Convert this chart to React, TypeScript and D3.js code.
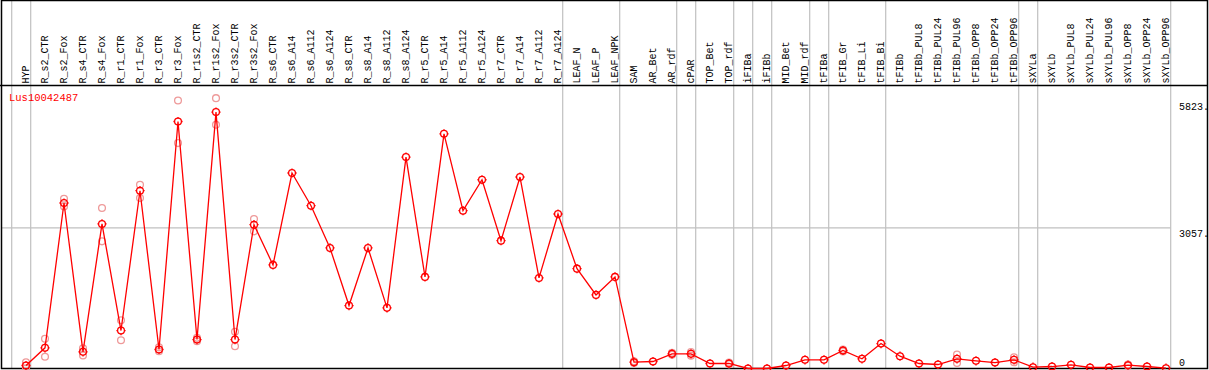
import React from "react";
import * as d3 from "d3";

const W = 1209;
const H = 370;

const categories = [
  "HYP", "R_s2_CTR", "R_s2_Fox", "R_s4_CTR", "R_s4_Fox", "R_r1_CTR", "R_r1_Fox",
  "R_r3_CTR", "R_r3_Fox", "R_r1s2_CTR", "R_r1s2_Fox", "R_r3s2_CTR", "R_r3s2_Fox",
  "R_s6_CTR", "R_s6_A14", "R_s6_A112", "R_s6_A124", "R_s8_CTR", "R_s8_A14",
  "R_s8_A112", "R_s8_A124", "R_r5_CTR", "R_r5_A14", "R_r5_A112", "R_r5_A124",
  "R_r7_CTR", "R_r7_A14", "R_r7_A112", "R_r7_A124", "LEAF_N", "LEAF_P", "LEAF_NPK",
  "SAM", "AR_Bet", "AR_rdf", "cPAR", "TOP_Bet", "TOP_rdf", "iFIBa", "iFIBb",
  "MID_Bet", "MID_rdf", "tFIBa", "tFIB_Gr", "tFIB_Li", "tFIB_Bi", "tFIBb",
  "tFIBb_PUL8", "tFIBb_PUL24", "tFIBb_PUL96", "tFIBb_OPP8", "tFIBb_OPP24", "tFIBb_OPP96",
  "sXYLa", "sXYLb", "sXYLb_PUL8", "sXYLb_PUL24", "sXYLb_PUL96", "sXYLb_OPP8",
  "sXYLb_OPP24", "sXYLb_OPP96",
];

// mean expression per sample
const means = [
  65, 450, 3600, 363, 3144, 826, 3867, 413, 5373, 630, 5577, 630, 3128,
  2253, 4252, 3541, 2622, 1369, 2622, 1319, 4599, 1992, 5105, 3433, 4106,
  2781, 4165, 1970, 3361, 2172, 1601, 1992,
  137, 152, 319, 319, 109, 109, 0, 0, 65, 189, 189, 391, 211, 543, 268,
  109, 87, 211, 167, 130, 189,
  28, 43, 80, 22, 22, 72, 43, 7,
];

// replicate values (null = coincides with mean / not visible)
const rep1: (number | null)[] = [
  137, 645, 3693, 282, 3491, 1050, 3997, 460, 5829, 667, 5881, 797, 3252,
  null, null, null, null, null, null, null, null, null, null, null, null,
  null, null, null, null, null, null, null,
  120, null, 300, 280, null, 90, null, null, null, null, null, 370, null, null, null,
  null, null, 304, null, null, 245,
  null, null, null, null, null, 60, null, null,
];
const rep2: (number | null)[] = [
  0, 254, 3526, 440, 2766, 615, 3708, 376, 4903, 593, 5301, 484, 2983,
  null, null, null, null, null, null, null, null, null, null, null, null,
  null, null, null, null, null, null, null,
  155, null, 340, 360, null, 130, null, null, null, null, null, 410, null, null, null,
  null, null, 120, null, null, 135,
  null, null, null, null, null, 85, null, null,
];

// samples after which a group separator is drawn ("" = before first)
const groupEnds = [
  "", "HYP", "R_r7_A124", "LEAF_NPK", "AR_rdf", "cPAR", "TOP_rdf", "iFIBa", "iFIBb",
  "MID_rdf", "tFIBa", "tFIB_Bi", "tFIBb_OPP96", "sXYLa", "sXYLb_OPP96",
];

const yTicks = [5823, 3057, 0];
const yTickLabels = ["5823.", "3057.", "0"];
const geneName = "Lus10042487";

const FONT = "'Liberation Mono', 'DejaVu Sans Mono', monospace";

export default function App() {
  const x = d3.scaleLinear().domain([0, categories.length - 1]).range([26, 1166]);
  const y = d3.scaleLinear().domain([0, 5823]).range([368.5, 100.8]);

  const line = d3
    .line<number>()
    .x((_, i) => x(i))
    .y((d) => y(d));

  const sepX = groupEnds.map((name) =>
    name === "" ? x(-1) + 4.7 : x(categories.indexOf(name)) + 4.7
  );
  const lastSep = x(categories.length - 1) + 4.7;

  const reps: { i: number; v: number }[] = [];
  categories.forEach((_, i) => {
    if (rep1[i] != null) reps.push({ i, v: rep1[i] as number });
    if (rep2[i] != null) reps.push({ i, v: rep2[i] as number });
  });

  const r = 3.4;

  return (
    <svg
      width={W}
      height={H}
      style={{ position: "absolute", left: 0, top: 0, background: "#fff" }}
      fontFamily={FONT}
    >
      {/* group separators */}
      {sepX.map((sx, k) => (
        <line key={"s" + k} x1={sx} x2={sx} y1={0} y2={369} stroke="#c0c0c0" strokeWidth={1.2} />
      ))}
      {/* horizontal reference line */}
      <line x1={1} x2={lastSep} y1={y(3057)} y2={y(3057)} stroke="#c0c0c0" strokeWidth={1.2} />

      {/* column labels */}
      {categories.map((c, i) => (
        <text
          key={c}
          transform={`translate(${x(i) + 2.5},83.5) rotate(-90)`}
          fontSize={10}
          fill="#000"
        >
          {c}
        </text>
      ))}

      {/* frame */}
      <line x1={0} x2={1208} y1={85.5} y2={85.5} stroke="#000" strokeWidth={1.3} />
      <rect x={1.5} y={0.5} width={1206} height={368} fill="none" stroke="#000" strokeWidth={1.5} />

      {/* y tick labels */}
      {yTicks.map((t, k) => (
        <text
          key={"t" + k}
          x={1179}
          y={t === 0 ? 366 : y(t) + 9}
          fontSize={10}
          fill="#000"
        >
          {yTickLabels[k]}
        </text>
      ))}

      {/* gene name */}
      <text x={9} y={100.5} fontSize={10.5} fill="#ff0000">
        {geneName}
      </text>

      {/* replicate points */}
      {reps.map((d, k) => (
        <circle
          key={"r" + k}
          cx={x(d.i)}
          cy={y(d.v)}
          r={r}
          fill="none"
          stroke="#ee9a9a"
          strokeWidth={1.3}
        />
      ))}

      {/* mean line */}
      <path d={line(means) || ""} fill="none" stroke="#ff0000" strokeWidth={1.3} />

      {/* mean points */}
      {means.map((v, i) => {
        const cx = x(i);
        const cy = y(v);
        return (
          <g key={"m" + i} stroke="#ff0000" strokeWidth={1.3} fill="none">
            <circle cx={cx} cy={cy} r={r} />
            <line x1={cx - r - 1.2} x2={cx - r + 0.3} y1={cy} y2={cy} />
            <line x1={cx + r - 0.3} x2={cx + r + 1.2} y1={cy} y2={cy} />
            <line x1={cx} x2={cx} y1={cy - r - 1.2} y2={cy - r + 0.3} />
            <line x1={cx} x2={cx} y1={cy + r - 0.3} y2={cy + r + 1.2} />
          </g>
        );
      })}
    </svg>
  );
}
